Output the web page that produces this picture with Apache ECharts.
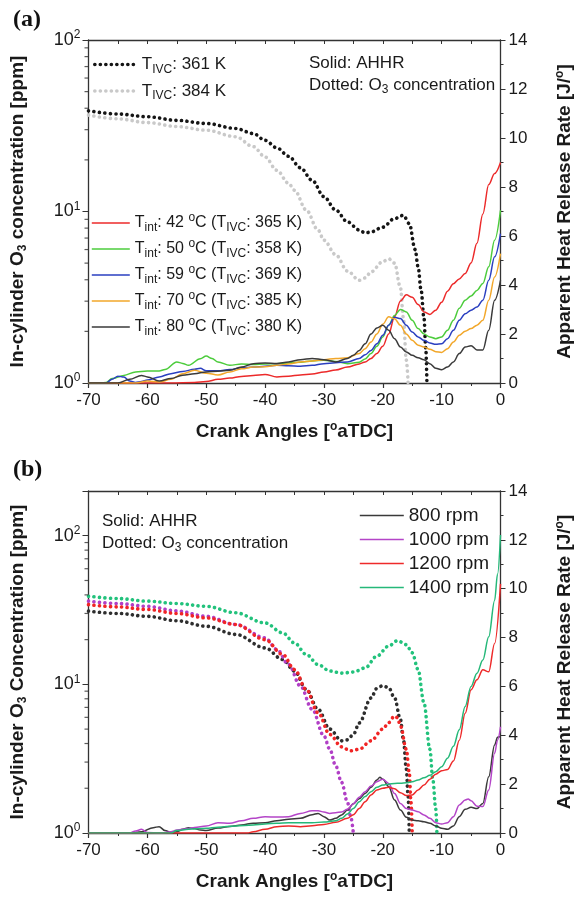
<!DOCTYPE html>
<html><head><meta charset="utf-8">
<script src="https://cdn.jsdelivr.net/npm/echarts@6/dist/echarts.min.js"></script>
<style>html,body{margin:0;padding:0;background:#fff}#c{width:582px;height:901px}</style>
</head><body><div id="c"></div>
<script>
// ---------- Panel (a) data ----------
const o3_361K = [[-70,38.7],[-65,37],[-60,35.7],[-55,34],[-50,32.6],[-45,30.5],[-42,28.5],[-40,26],[-38,23.5],[-36,21],[-34,18],[-32,15.2],[-30,12.2],[-28,10.2],[-26,8.7],[-24,7.8],[-23,7.5],[-22,7.6],[-20,8.1],[-18,9.1],[-16.5,9.5],[-15.5,8.5],[-14.5,6.0],[-14,4.75],[-13.5,3.5],[-13,2.4],[-12.7,1.6],[-12.5,1.0]];
const o3_384K = [[-70,36.5],[-65,34.7],[-60,33],[-55,31.3],[-50,29.8],[-45,27.3],[-42,23.9],[-40,20.8],[-38,17.4],[-36,14.6],[-35,13.3],[-33,10.2],[-31,7.8],[-30,6.8],[-28,5.6],[-26,4.5],[-24,3.97],[-23,4.1],[-22,4.44],[-20,5.1],[-19,5.3],[-18,5.0],[-17,3.6],[-16.5,2.4],[-16,1.36],[-15.7,1.0]];
const ahhr_42C = [[-70,0],[-56,0],[-52,0.02],[-50,0.06],[-48,0.15],[-46,0.2],[-44,0.27],[-42,0.31],[-40,0.35],[-38,0.25],[-36,0.28],[-34,0.33],[-32,0.37],[-30,0.45],[-28,0.53],[-26,0.65],[-24,0.78],[-23,0.86],[-22,1.0],[-21,1.2],[-20,1.5],[-19,2.0],[-18,2.7],[-17,3.35],[-16,3.6],[-15,3.5],[-14,3.2],[-13,2.9],[-12,2.8],[-11,2.97],[-10,3.3],[-9,3.75],[-8,4.05],[-7,4.25],[-6,4.47],[-5,4.9],[-4,5.7],[-3,6.9],[-2,8.1],[-1,8.55],[0,9.0]];
const ahhr_50C = [[-70,0],[-68,0],[-67,0.02],[-66,0.18],[-64,0.31],[-62,0.45],[-60,0.49],[-58,0.49],[-57,0.55],[-55,0.86],[-54,0.8],[-53,0.72],[-51,0.99],[-50,1.1],[-49,1.0],[-48,0.86],[-46,0.72],[-44,0.78],[-42,0.76],[-40,0.78],[-38,0.79],[-36,0.82],[-34,0.85],[-32,0.9],[-30,0.93],[-28,0.88],[-26,0.79],[-24,0.85],[-23,0.98],[-22,1.2],[-21,1.5],[-20,1.88],[-19,2.36],[-18,2.76],[-17,3.0],[-16,2.9],[-15,2.56],[-14,2.22],[-13,2.0],[-12,1.88],[-11,1.81],[-10,1.88],[-9,2.15],[-8,2.56],[-7,3.05],[-6,3.38],[-5,3.55],[-4,3.78],[-3,4.06],[-2,4.74],[-1,5.83],[0,7.05]];
const ahhr_59C = [[-70,0],[-67,0],[-66,0.15],[-65,0.28],[-64,0.24],[-63,0.08],[-62,0.02],[-61,0.06],[-60,0.12],[-58,0.25],[-56,0.38],[-54,0.47],[-52,0.56],[-51,0.6],[-50,0.5],[-48,0.5],[-46,0.55],[-44,0.62],[-42,0.65],[-40,0.68],[-38,0.72],[-36,0.7],[-34,0.68],[-32,0.72],[-30,0.79],[-28,0.83],[-26,0.86],[-24,1.0],[-23,1.15],[-22,1.33],[-21,1.6],[-20,1.95],[-19,2.36],[-18,2.68],[-17,2.63],[-16,2.36],[-15,2.08],[-14,1.88],[-13,1.74],[-12,1.63],[-11,1.58],[-10,1.6],[-9,1.81],[-8,2.15],[-7,2.56],[-6,2.83],[-5,2.97],[-4,3.1],[-3,3.38],[-2,4.19],[-1,5.15],[0,6.1]];
const ahhr_70C = [[-70,0],[-62,0],[-60,0.08],[-58,0.04],[-56,0.15],[-54,0.38],[-52,0.52],[-50,0.4],[-48,0.33],[-46,0.45],[-44,0.58],[-42,0.65],[-40,0.66],[-38,0.72],[-36,0.78],[-34,0.86],[-32,0.9],[-30,0.95],[-28,1.0],[-26,1.03],[-24,1.2],[-23,1.4],[-22,1.67],[-21,2.0],[-20,2.4],[-19,2.7],[-18,2.62],[-17,2.36],[-16,2.0],[-15,1.74],[-14,1.54],[-13,1.47],[-12,1.38],[-11,1.28],[-10,1.25],[-9,1.4],[-8,1.67],[-7,1.95],[-6,2.11],[-5,2.22],[-4,2.36],[-3,2.56],[-2,3.38],[-1,4.33],[0,5.28]];
const ahhr_80C = [[-70,0],[-65,0],[-63,0.15],[-61,0.31],[-60,0.25],[-58,0.08],[-56,0.18],[-54,0.32],[-52,0.38],[-50,0.45],[-48,0.48],[-46,0.52],[-44,0.65],[-42,0.79],[-40,0.82],[-38,0.8],[-36,0.86],[-34,0.95],[-32,1.0],[-30,0.95],[-28,0.86],[-26,1.0],[-25,1.13],[-24,1.33],[-23,1.6],[-22,2.0],[-21,2.25],[-20,2.36],[-19,2.15],[-18,1.81],[-17,1.47],[-16,1.27],[-15,1.13],[-14,1.03],[-13,0.95],[-12,0.79],[-11,0.6],[-10,0.54],[-9,0.65],[-8,0.86],[-7,1.2],[-6,1.47],[-5,1.52],[-4,1.35],[-3,1.35],[-2,2.15],[-1,3.38],[0,4.19]];

// ---------- Panel (b) data ----------
const o3_800 = [[-70,31.1],[-65,30],[-60,28.7],[-55,26.8],[-50,24.6],[-45,21.7],[-40,17.6],[-37,14.7],[-35,12.3],[-33,9.25],[-31,6.8],[-29,5.0],[-27,4.17],[-26,4.23],[-25,4.6],[-24,5.5],[-22,8.1],[-21,9.4],[-20,9.8],[-19,9.5],[-18,8.1],[-17,5.8],[-16.5,4.27],[-16,2.69],[-15.7,1.78],[-15.5,1.0]];
const o3_1000 = [[-70,36.3],[-65,35],[-60,33.5],[-55,31.2],[-50,28.7],[-45,25.3],[-40,20.6],[-38,17.2],[-36,13.6],[-34,9.75],[-32,6.8],[-30,4.5],[-29,3.66],[-28,2.83],[-27,2.19],[-26,1.61],[-25.5,1.31],[-25,1.0]];
const o3_1200 = [[-70,34.4],[-65,33.2],[-60,31.9],[-55,30],[-50,28],[-45,25.3],[-40,20],[-37,15.9],[-35,12.6],[-33,9.25],[-31,6.45],[-29,4.6],[-27,3.8],[-25.5,3.57],[-24,3.66],[-22,4.17],[-20,5.0],[-19,5.53],[-18,6.13],[-17.5,5.97],[-17,5.25],[-16,3.66],[-15.5,2.55],[-15.2,1.6],[-15,1.0]];
const o3_1400 = [[-70,39.2],[-65,37.8],[-60,36.3],[-55,35],[-50,33.5],[-45,30.3],[-40,25.9],[-37,22.2],[-35,19],[-33,15.9],[-31,13.6],[-29,12.3],[-27,11.9],[-25,12.1],[-23,12.9],[-21,15.5],[-19,18.1],[-17.5,19.7],[-16,18.5],[-15,16.3],[-14,12.6],[-13,7.5],[-12,3.66],[-11.5,2.3],[-11,1.45],[-10.8,1.0]];
const ahhr_800 = [[-70,0],[-63,0],[-61,0.05],[-59,0.22],[-58,0.26],[-57,0.1],[-56,0.02],[-55,0.05],[-54,0.15],[-53,0.22],[-52,0.18],[-51,0.12],[-50,0.1],[-48,0.2],[-46,0.27],[-44,0.33],[-42,0.4],[-40,0.42],[-38,0.5],[-36,0.56],[-34,0.6],[-32,0.75],[-31,0.8],[-30,0.67],[-29,0.53],[-28,0.6],[-27,0.74],[-26,0.94],[-25,1.2],[-24,1.4],[-23,1.62],[-22,1.87],[-21,2.17],[-20.5,2.28],[-20,2.2],[-19,1.9],[-18,1.35],[-17,0.94],[-16,0.64],[-15,0.53],[-14,0.5],[-13,0.46],[-12,0.4],[-11,0.29],[-10,0.19],[-9,0.15],[-8,0.29],[-7,0.67],[-6,0.97],[-5,1.05],[-4,1.0],[-3,1.21],[-2,2.3],[-1,3.6],[-0.5,3.92],[0,3.95]];
const ahhr_1000 = [[-70,0],[-63,0],[-62,0.08],[-61,0.15],[-60,0.02],[-58,0],[-56,0.05],[-55,0.12],[-53,0.18],[-52,0.23],[-50,0.29],[-48,0.42],[-46,0.4],[-44,0.5],[-42,0.6],[-40,0.67],[-38,0.65],[-36,0.67],[-34,0.8],[-32,0.91],[-31,0.91],[-30,0.86],[-29,0.8],[-28,0.83],[-27,0.86],[-26,0.97],[-25,1.2],[-24,1.46],[-23,1.69],[-22,1.92],[-21,2.1],[-20,2.2],[-19,2.03],[-18,1.62],[-17,1.21],[-16,1.0],[-15,0.94],[-14,0.87],[-13,0.74],[-12,0.6],[-11,0.42],[-10,0.37],[-9,0.42],[-8,0.67],[-7,1.15],[-6,1.35],[-5.5,1.39],[-5,1.32],[-4,1.1],[-3,1.08],[-2,1.76],[-1,3.26],[-0.5,3.8],[0,4.35]];
const ahhr_1200 = [[-70,0],[-43,0],[-42,0.05],[-40,0.15],[-38,0.26],[-36,0.29],[-34,0.26],[-32,0.3],[-30,0.35],[-28,0.44],[-26,0.6],[-25,0.75],[-24,1.0],[-23,1.28],[-22,1.56],[-21,1.76],[-20,1.83],[-19,1.87],[-18,1.81],[-17,1.65],[-16,1.53],[-15,1.56],[-14,1.76],[-13,1.96],[-12,2.2],[-11,2.41],[-10,2.55],[-9,2.6],[-8,2.95],[-7,3.8],[-6,4.9],[-5,5.86],[-4,6.27],[-3,6.68],[-2,6.6],[-1,7.76],[0,10.2]];
const ahhr_1400 = [[-70,0],[-56,0],[-55,0.1],[-53,0.15],[-50,0.19],[-48,0.24],[-45,0.29],[-42,0.33],[-40,0.37],[-38,0.4],[-36,0.42],[-34,0.42],[-32,0.42],[-30,0.45],[-28,0.5],[-27,0.6],[-26,0.78],[-25,1.0],[-24,1.28],[-23,1.49],[-22,1.69],[-21,1.87],[-20,1.96],[-19,2.0],[-18,2.03],[-17,2.04],[-16,2.06],[-15,2.1],[-14,2.17],[-13,2.26],[-12,2.36],[-11,2.51],[-10,2.71],[-9,3.06],[-8,3.55],[-7,4.23],[-6,5.18],[-5,6.0],[-4,6.54],[-3,7.08],[-2,8.03],[-1,9.52],[-0.5,10.6],[0,12.2]];

// legend labels
const tIntLabels = [['42','365'],['50','358'],['59','369'],['70','385'],['80','380']];
const tIvcLabels = ['361','384'];
const rpmLabels = ['800 rpm','1000 rpm','1200 rpm','1400 rpm'];
// log-axis minor tick values
const logMinorA = [2,3,4,5,6,7,8,9,20,30,40,50,60,70,80,90];
const logMinorB = [2,3,4,5,6,7,8,9,20,30,40,50,60,70,80,90];

const FONT = 'Liberation Sans, Arial, sans-serif';
const TXT = '#1a1a1a';
const AX = '#333';
const DOT = [0.1, 5.4];
function richSet(fs) {
  return {
    t: {fontSize: fs, fontFamily: FONT, color: TXT},
    s: {fontSize: 12, fontFamily: FONT, color: TXT, padding: [10, 0, 0, 0]},
    p: {fontSize: 12, fontFamily: FONT, color: TXT, padding: [0, 0, 10, 0]}
  };
}

const chart = echarts.init(document.getElementById('c'), null, {renderer: 'canvas'});

function xBottom(g) {
  return {
    gridIndex: g, type: 'value', min: -70, max: 0, interval: 10,
    axisLine: {onZero: false, lineStyle: {color: AX, width: 1.3}},
    axisTick: {length: 5, lineStyle: {color: AX, width: 1.2}},
    minorTick: {show: true, splitNumber: 2, length: 3, lineStyle: {color: AX}},
    splitLine: {show: false},
    axisLabel: {fontSize: 17, color: TXT, fontFamily: FONT, margin: 9},
    name: 'Crank Angles [{p|o}aTDC]', nameLocation: 'middle', nameGap: 38,
    nameTextStyle: {fontSize: 19, fontWeight: 'bold', color: TXT, fontFamily: FONT,
      rich: {p: {fontSize: 12, fontWeight: 'bold', fontFamily: FONT, color: TXT, padding: [0, 0, 10, 0]}}}
  };
}
function xTop(g) {
  return {
    gridIndex: g, type: 'value', position: 'top', min: -70, max: 0, interval: 5,
    axisLine: {onZero: false, lineStyle: {color: AX, width: 1.3}},
    axisTick: {inside: true, length: 4, lineStyle: {color: AX}},
    axisLabel: {show: false}, splitLine: {show: false}
  };
}
function yLog(g, maxV, title) {
  return {
    gridIndex: g, type: 'log', logBase: 10, min: 1, max: maxV, position: 'left',
    axisLine: {show: true, onZero: false, lineStyle: {color: AX, width: 1.3}},
    axisTick: {show: true, length: 6, lineStyle: {color: AX}},
    splitLine: {show: false},
    axisLabel: {
      margin: 8, color: TXT, fontFamily: FONT,
      formatter: v => {
        const e = Math.log10(v);
        if (Math.abs(e - Math.round(e)) > 1e-6) return '';
        return '{b|10}{p|' + Math.round(e) + '}';
      },
      rich: {
        b: {fontSize: 18, fontFamily: FONT, color: TXT},
        p: {fontSize: 12, fontFamily: FONT, color: TXT, padding: [0, 0, 10, 0]}
      }
    },
    name: title, nameLocation: 'middle', nameGap: 60, nameRotate: 90,
    nameTextStyle: {fontSize: 19, fontWeight: 'bold', color: TXT, fontFamily: FONT,
      rich: {s: {fontSize: 12, fontWeight: 'bold', fontFamily: FONT, color: TXT, padding: [10, 0, 0, 0]}}}
  };
}
function yRight(g) {
  return {
    gridIndex: g, type: 'value', min: 0, max: 14, interval: 2, position: 'right',
    axisLine: {show: true, onZero: false, lineStyle: {color: AX, width: 1.3}},
    axisTick: {show: true, length: 5, lineStyle: {color: AX}},
    minorTick: {show: true, splitNumber: 2, length: 3, lineStyle: {color: AX}},
    splitLine: {show: false},
    axisLabel: {fontSize: 17, color: TXT, fontFamily: FONT, margin: 8},
    name: 'Apparent Heat Release Rate [J/{p|o}]', nameLocation: 'middle', nameGap: 53, nameRotate: 90,
    nameTextStyle: {fontSize: 19, fontWeight: 'bold', color: TXT, fontFamily: FONT,
      rich: {p: {fontSize: 12, fontWeight: 'bold', fontFamily: FONT, color: TXT, padding: [0, 0, 10, 0]}}}
  };
}

function dotted(name, data, color, xi, yi) {
  return {name, type: 'line', data, xAxisIndex: xi, yAxisIndex: yi, showSymbol: false, symbol: 'none',
    smooth: 0.35, smoothMonotone: 'x',
    lineStyle: {color, width: 3.6, type: DOT, cap: 'round'}, itemStyle: {color}, z: 3};
}
function solid(name, data, color, xi, yi) {
  return {name, type: 'line', data, xAxisIndex: xi, yAxisIndex: yi, showSymbol: false, symbol: 'none',
    smooth: 0.35, smoothMonotone: 'x',
    lineStyle: {color, width: 1.5}, itemStyle: {color}, z: 4};
}
function minorTicks(vals, xi, yi) {
  return {type: 'scatter', xAxisIndex: xi, yAxisIndex: yi, data: vals.map(v => [-70, v]),
    symbol: 'rect', symbolSize: [4, 1.2], symbolOffset: [-2, 0], clip: false, silent: true,
    itemStyle: {color: AX}, z: 6};
}

const nA1 = tIvcLabels.map(k => 'IVC' + k);
const nA2 = tIntLabels.map(l => 'INT' + l[0]);

const option = {
  animation: false,
  backgroundColor: '#fff',
  textStyle: {fontFamily: FONT},
  grid: [
    {left: 83, top: 40, width: 428, height: 343},
    {left: 83, top: 491, width: 428, height: 342}
  ],
  title: [
    {text: '(a)', left: 8, top: 3, textStyle: {fontFamily: 'Liberation Serif, Times New Roman, serif', fontWeight: 'bold', fontSize: 24, color: '#111'}},
    {text: '(b)', left: 8, top: 453, textStyle: {fontFamily: 'Liberation Serif, Times New Roman, serif', fontWeight: 'bold', fontSize: 24, color: '#111'}},
    {text: '{t|Solid: AHHR}\n{t|Dotted: O}{s|3}{t| concentration}', left: 304, top: 47,
      textStyle: {fontSize: 17, fontWeight: 'normal', color: TXT, lineHeight: 22, rich: richSet(17)}},
    {text: '{t|Solid: AHHR}\n{t|Dotted: O}{s|3}{t| concentration}', left: 97, top: 505,
      textStyle: {fontSize: 17, fontWeight: 'normal', color: TXT, lineHeight: 22, rich: richSet(17)}}
  ],
  legend: [
    {data: nA1, orient: 'vertical', left: 88, top: 51, itemWidth: 42, itemHeight: 12, itemGap: 7,
      itemStyle: {opacity: 0},
      lineStyle: {width: 3.6, type: DOT, cap: 'round'},
      formatter: n => '{t|T}{s|IVC}{t|: ' + n.slice(3) + ' K}', textStyle: {rich: richSet(17)}},
    {data: nA2, orient: 'vertical', left: 86, top: 207, itemWidth: 38, itemHeight: 12, itemGap: 4,
      itemStyle: {opacity: 0},
      lineStyle: {width: 1.6},
      formatter: n => { const l = tIntLabels.find(x => 'INT' + x[0] === n);
        return '{t|T}{s|int}{t|: ' + l[0] + ' }{p|o}{t|C (T}{s|IVC}{t|: ' + l[1] + ' K)}'; },
      textStyle: {rich: richSet(16)}},
    {data: rpmLabels, orient: 'vertical', left: 354, top: 501, itemWidth: 44, itemHeight: 12, itemGap: 5,
      itemStyle: {opacity: 0},
      lineStyle: {width: 1.6},
      textStyle: {fontSize: 19, color: TXT, fontFamily: FONT}}
  ],
  xAxis: [xBottom(0), xTop(0), xBottom(1), xTop(1)],
  yAxis: [
    yLog(0, 100, 'In-cylinder O{s|3} concentration [ppm]'),
    yRight(0),
    yLog(1, 200, 'In-cylinder O{s|3} Concentration [ppm]'),
    yRight(1)
  ],
  series: [
    dotted(nA1[0], o3_361K, '#151515', 0, 0),
    dotted(nA1[1], o3_384K, '#c9c9c9', 0, 0),
    solid(nA2[0], ahhr_42C, '#ec2a2a', 0, 1),
    solid(nA2[1], ahhr_50C, '#4ccc3c', 0, 1),
    solid(nA2[2], ahhr_59C, '#2a3fc0', 0, 1),
    solid(nA2[3], ahhr_70C, '#f2a72a', 0, 1),
    solid(nA2[4], ahhr_80C, '#3a3a3a', 0, 1),
    minorTicks(logMinorA, 0, 0),

    dotted('O3 800', o3_800, '#2e2e2e', 2, 2),
    dotted('O3 1000', o3_1000, '#b13fc6', 2, 2),
    dotted('O3 1200', o3_1200, '#f02525', 2, 2),
    dotted('O3 1400', o3_1400, '#22c27c', 2, 2),
    solid(rpmLabels[0], ahhr_800, '#3a3a3a', 2, 3),
    solid(rpmLabels[1], ahhr_1000, '#b445c8', 2, 3),
    solid(rpmLabels[2], ahhr_1200, '#ee2a2a', 2, 3),
    solid(rpmLabels[3], ahhr_1400, '#25b879', 2, 3),
    minorTicks(logMinorB, 2, 2)
  ]
};
chart.setOption(option);
</script></body></html>
